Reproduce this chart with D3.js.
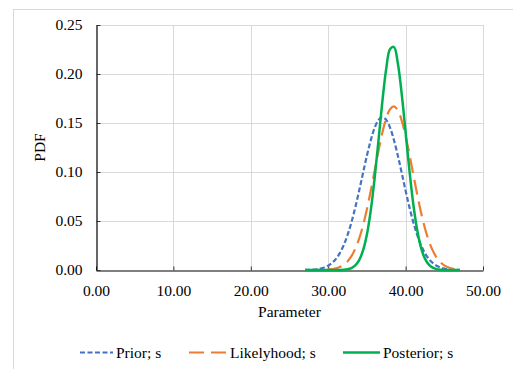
<!DOCTYPE html>
<html>
<head>
<meta charset="utf-8">
<script src="https://cdn.jsdelivr.net/npm/d3@7"></script>
<style>
  html, body { margin: 0; padding: 0; background: #fff; }
  svg { display: block; }
</style>
</head>
<body>
<div id="chart"></div>
<script>
const parameterValues = [
  27, 27.5, 28, 28.5, 29, 29.5, 30, 30.5, 31, 31.5, 32, 32.5, 33, 33.5,
  34, 34.5, 35, 35.5, 36, 36.5, 37, 37.5, 38, 38.5, 39, 39.5, 40, 40.5,
  41, 41.5, 42, 42.5, 43, 43.5, 44, 44.5, 45, 45.5, 46, 46.5, 47
];
const priorPdf = [
  0.0001, 0.0002, 0.0004, 0.0008, 0.0015, 0.0026, 0.0044, 0.0072, 0.0113, 0.0172,
  0.0253, 0.0357, 0.0486, 0.0639, 0.0810, 0.0990, 0.1166, 0.1324, 0.1451, 0.1532,
  0.1560, 0.1532, 0.1451, 0.1324, 0.1166, 0.0990, 0.0810, 0.0639, 0.0486, 0.0357,
  0.0253, 0.0172, 0.0113, 0.0072, 0.0044, 0.0026, 0.0015, 0.0008, 0.0004, 0.0002,
  0.0001
];
const likelihoodPdf = [
  0.0000, 0.0000, 0.0000, 0.0000, 0.0001, 0.0002, 0.0004, 0.0009, 0.0016, 0.0030,
  0.0052, 0.0088, 0.0141, 0.0217, 0.0321, 0.0455, 0.0620, 0.0809, 0.1013, 0.1217,
  0.1402, 0.1549, 0.1642, 0.1670, 0.1628, 0.1524, 0.1367, 0.1177, 0.0972, 0.0770,
  0.0585, 0.0426, 0.0298, 0.0200, 0.0128, 0.0079, 0.0047, 0.0027, 0.0014, 0.0008,
  0.0004
];
const posteriorPdf = [
  0.0000, 0.0000, 0.0000, 0.0000, 0.0000, 0.0000, 0.0000, 0.0000, 0.0000, 0.0001,
  0.0003, 0.0008, 0.0020, 0.0047, 0.0101, 0.0200, 0.0363, 0.0609, 0.0937, 0.1324,
  0.1721, 0.2055, 0.2255, 0.2275, 0.2108, 0.1795, 0.1405, 0.1011, 0.0668, 0.0406,
  0.0226, 0.0116, 0.0055, 0.0024, 0.0009, 0.0003, 0.0001, 0.0000, 0.0000, 0.0000,
  0.0000
];
const seriesNames = ["Prior; s", "Likelyhood; s", "Posterior; s"];
const xTicks = [0, 10, 20, 30, 40, 50];
const yTicks = [0, 0.05, 0.1, 0.15, 0.2, 0.25];

(function() {
  const WIDTH = 513;
  const HEIGHT = 369;
  const FONT = "'Liberation Serif', 'Times New Roman', serif";
  const FONTSIZE = "15.5px";
  const GRIDCOLOR = "#d9d9d9";

  const styles = [
    { color: "#4472C4", dash: "5,2.5", width: 2.2 },
    { color: "#ED7D31", dash: "15,7", width: 2.2 },
    { color: "#00B050", dash: null, width: 2.5 }
  ];

  const svg = d3
    .select("#chart")
    .append("svg")
    .attr("width", WIDTH)
    .attr("height", HEIGHT);

  // chart frame (runs off the picture to the right and bottom)
  svg
    .append("rect")
    .attr("x", 13.5)
    .attr("y", 9.5)
    .attr("width", 540)
    .attr("height", 400)
    .attr("fill", "#fff")
    .attr("stroke", GRIDCOLOR);

  const x = d3.scaleLinear().domain([0, 50]).range([96, 483]);
  const y = d3.scaleLinear().domain([0, 0.25]).range([270, 25]);
  const fmt = d3.format(".2f");

  // gridlines
  svg
    .append("g")
    .selectAll("line")
    .data(yTicks.slice(1))
    .enter()
    .append("line")
    .attr("x1", x(0))
    .attr("x2", x(50))
    .attr("y1", d => Math.round(y(d)) + 0.5)
    .attr("y2", d => Math.round(y(d)) + 0.5)
    .attr("stroke", GRIDCOLOR);

  svg
    .append("g")
    .selectAll("line")
    .data(xTicks.slice(1))
    .enter()
    .append("line")
    .attr("x1", d => Math.round(x(d)) + 0.5)
    .attr("x2", d => Math.round(x(d)) + 0.5)
    .attr("y1", y(0.25))
    .attr("y2", y(0))
    .attr("stroke", GRIDCOLOR);

  // axes
  const xAxis = svg
    .append("g")
    .attr("transform", `translate(0, ${Math.round(y(0)) + 0.5})`)
    .call(d3.axisBottom(x).tickValues(xTicks).tickFormat(fmt).tickSizeInner(-4).tickSizeOuter(0).tickPadding(14));
  const yAxis = svg
    .append("g")
    .attr("transform", `translate(${Math.round(x(0)) + 0.5}, 0)`)
    .call(d3.axisLeft(y).tickValues(yTicks).tickFormat(fmt).tickSizeInner(-4).tickSizeOuter(0).tickPadding(14));

  [xAxis, yAxis].forEach(a => {
    a.select(".domain").attr("stroke", "#000").attr("stroke-width", 1.2);
    a.selectAll(".tick line").attr("stroke", "#333");
    a.selectAll("text")
      .style("font-family", FONT)
      .style("font-size", FONTSIZE)
      .attr("fill", "#000");
  });

  // axis titles
  svg
    .append("text")
    .attr("x", (x(0) + x(50)) / 2)
    .attr("y", 317)
    .attr("text-anchor", "middle")
    .style("font-family", FONT)
    .style("font-size", FONTSIZE)
    .text("Parameter");

  svg
    .append("text")
    .attr("transform", `translate(45, ${(y(0) + y(0.25)) / 2}) rotate(-90)`)
    .attr("text-anchor", "middle")
    .style("font-family", FONT)
    .style("font-size", FONTSIZE)
    .text("PDF");

  // curves
  const allSeries = [priorPdf, likelihoodPdf, posteriorPdf];
  const line = d3
    .line()
    .x((d, i) => x(parameterValues[i]))
    .y(d => y(d))
    .curve(d3.curveCatmullRom);

  svg
    .append("g")
    .selectAll("path")
    .data(allSeries)
    .enter()
    .append("path")
    .attr("d", line)
    .attr("fill", "none")
    .attr("stroke", (d, i) => styles[i].color)
    .attr("stroke-width", (d, i) => styles[i].width)
    .attr("stroke-dasharray", (d, i) => styles[i].dash);

  // legend
  const legendX = [80, 189, 343];
  const legendLen = [33, 38, 37];
  const legendY = 352.5;
  const legend = svg
    .append("g")
    .selectAll("g")
    .data(seriesNames)
    .enter()
    .append("g");

  legend
    .append("line")
    .attr("x1", (d, i) => legendX[i])
    .attr("x2", (d, i) => legendX[i] + legendLen[i])
    .attr("y1", legendY)
    .attr("y2", legendY)
    .attr("stroke", (d, i) => styles[i].color)
    .attr("stroke-width", (d, i) => styles[i].width)
    .attr("stroke-dasharray", (d, i) => styles[i].dash);

  legend
    .append("text")
    .attr("x", (d, i) => legendX[i] + legendLen[i] + 3)
    .attr("y", legendY + 5)
    .style("font-family", FONT)
    .style("font-size", FONTSIZE)
    .text(d => d);
})();
</script>
</body>
</html>
